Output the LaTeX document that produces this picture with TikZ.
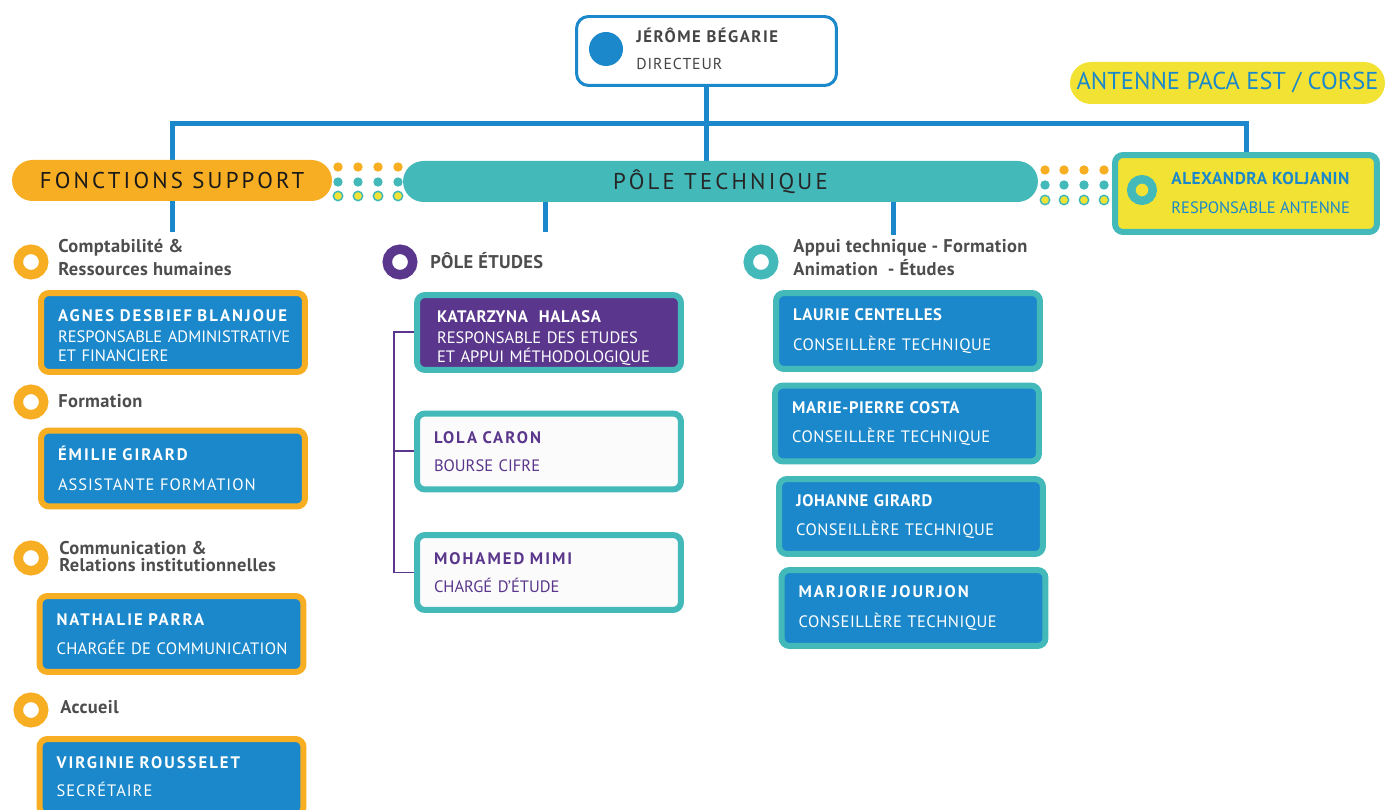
\documentclass[tikz,border=0pt]{standalone}
\usepackage{fontspec}
\setmainfont{PT Sans}
\usetikzlibrary{shapes.misc,backgrounds}

\definecolor{orgblue}{HTML}{1A88CA}
\definecolor{orgorange}{HTML}{F8AE23}
\definecolor{orgteal}{HTML}{44B9BA}
\definecolor{orgpurple}{HTML}{5A378C}
\definecolor{orgyellow}{HTML}{F2E233}
\definecolor{orggray}{HTML}{4D4D4D}
\definecolor{orgwhite}{HTML}{FBFBFB}

\newcommand\wide[2][12]{\mbox{\addfontfeature{LetterSpace=#1}#2}}
\newcommand\staffname[2][4]{\mbox{\fontsize{9.5}{10.5}\selectfont\bfseries\addfontfeature{LetterSpace=#1}#2}}

\tikzset{
  link/.style={draw=orgblue, line width=0.1cm},
  bracket/.style={draw=orgpurple, line width=0.04cm},
  pill/.style={rounded rectangle, fill=#1, minimum height=0.82cm, inner sep=0pt},
  staffbox/.style 2 args={draw=#1, fill=#2, line width=0.12cm, rounded corners=0.16cm,
    minimum width=5.28cm, minimum height=1.52cm, text width=4.6cm, inner xsep=0.34cm,
    inner ysep=0pt, align=left, font=\fontsize{9.4}{10.8}\selectfont},
  supportbox/.style={staffbox={orgorange}{orgblue}, text=white},
  techbox/.style={staffbox={orgteal}{orgblue}, text=white},
  etudesbox/.style={staffbox={orgteal}{orgwhite}, text=orgpurple},
  ring/.style={circle, draw=#1, fill=white, line width=0.19cm, minimum size=0.51cm, inner sep=0pt},
  heading/.style={anchor=west, inner sep=0pt, align=left, text=orggray,
    font=\bfseries\fontsize{10.5}{13}\selectfont\addfontfeature{LetterSpace=2}},
  dot/.style={circle, fill=#1, minimum size=0.188cm, inner sep=0pt},
}

\begin{document}
\begin{tikzpicture}[x=0.02cm, y=-0.02cm]
  \useasboundingbox (0,0) rectangle (1386,810);
  \clip (0,0) rectangle (1386,810);

  % direction
  \node[draw=orgblue, fill=white, line width=0.06cm, rounded corners=0.24cm,
    minimum width=5.2cm, minimum height=1.38cm] (director) at (706.5,51) {};
  \node[circle, fill=orgblue, minimum size=0.68cm, inner sep=0pt] (director dot) at (606,49) {};
  \node[anchor=west, inner sep=0pt, align=left, text=orggray!90!black,
    font=\fontsize{9}{11}\selectfont] (director text) at (636,49)
    {\staffname[9]{JÉRÔME BÉGARIE}\\[4pt]\wide[6]{DIRECTEUR}};

  % antenne
  \node[pill=orgyellow, minimum height=0.84cm, minimum width=6.3cm, text=orgblue,
    font=\fontsize{13.9}{15}\selectfont] (antenne) at (1227.5,83) {ANTENNE PACA EST / CORSE};
  \node[draw=orgteal, fill=orgyellow, line width=0.12cm, rounded corners=0.16cm,
    minimum width=5.24cm, minimum height=1.54cm] (antbox) at (1246,193.5) {};
  \node[circle, draw=orgteal, fill=orgyellow, line width=0.17cm, minimum size=0.43cm,
    inner sep=0pt] (antring) at (1142,190) {};
  \node[anchor=west, inner sep=0pt, align=left, text=orgblue,
    font=\fontsize{9.4}{11}\selectfont] (alexandra) at (1171,193)
    {{\fontsize{9.8}{11}\selectfont\bfseries\addfontfeature{LetterSpace=3}ALEXANDRA KOLJANIN}\\[6pt]RESPONSABLE ANTENNE};

  % dots between the pills
  \foreach \x [count=\i] in {338,358,378,398} {
    \node[dot=orgorange] (dl-\i-a) at (\x,167) {};
    \node[dot=orgteal] (dl-\i-b) at (\x,182) {};
    \node[dot=orgyellow, draw=orgteal, line width=0.03cm] (dl-\i-c) at (\x,196) {};
  }
  \foreach \x [count=\i] in {1045,1064,1084,1104} {
    \node[dot=orgorange] (dr-\i-a) at (\x,170) {};
    \node[dot=orgteal] (dr-\i-b) at (\x,185) {};
    \node[dot=orgyellow, draw=orgteal, line width=0.03cm] (dr-\i-c) at (\x,200) {};
  }

  % pills
  \node[pill=orgorange, minimum width=6.4cm, text=black!90,
    font=\fontsize{13}{15}\selectfont] (support) at (172,180.5) {\wide[14]{FONCTIONS SUPPORT}};
  \node[pill=orgteal, minimum width=12.7cm, text=black!85,
    font=\fontsize{13}{15}\selectfont] (pole) at (720.5,181.5) {\wide[14]{PÔLE TECHNIQUE}};

  % fonctions support
  \node[ring=orgorange] (r-compta) at (31,262) {};
  \node[heading] (compta) at (58,257.5) {Comptabilité \&\\Ressources humaines};
  \node[supportbox, minimum height=1.58cm] (agnes) at (173,332.5)
    {\rule{0pt}{10.5pt}\staffname[12]{AGNES DESBIEF BLANJOUE}\\[1.5pt]\wide[0]{RESPONSABLE ADMINISTRATIVE}\\ET FINANCIERE};

  \node[ring=orgorange] (r-formation) at (31,402) {};
  \node[heading] (formation) at (58,401) {Formation};
  \node[supportbox] (emilie) at (173,468.5)
    {\staffname[12]{ÉMILIE GIRARD}\\[6.5pt]\wide[6]{ASSISTANTE FORMATION}};

  \node[ring=orgorange] (r-com) at (31,558) {};
  \node[heading] (com) at (59,556.5) {Communication \&\\[-3pt]Relations institutionnelles};
  \node[supportbox] (nathalie) at (171.5,634)
    {\staffname[12]{NATHALIE PARRA}\\[5.5pt]\wide[2]{CHARGÉE DE COMMUNICATION}};

  \node[ring=orgorange] (r-accueil) at (31,710) {};
  \node[heading] (accueil) at (60,707) {Accueil};
  \node[supportbox] (virginie) at (171.5,777)
    {\staffname[12]{VIRGINIE ROUSSELET}\\[5pt]\wide[6]{SECRÉTAIRE}};

  % pole etudes
  \node[ring=orgpurple] (r-etudes) at (400,262) {};
  \node[heading] (etudes) at (430,261) {PÔLE ÉTUDES};
  \node[staffbox={orgteal}{orgpurple}, text=white, minimum height=1.5cm, inner xsep=0.4cm,
    text width=4.48cm] (katarzyna) at (549,332.5)
    {\rule{0pt}{13.5pt}\staffname{KATARZYNA\ \ HALASA}\\[1pt]\wide[0]{RESPONSABLE DES ETUDES}\\\wide[0]{ET APPUI MÉTHODOLOGIQUE}};
  \node[etudesbox] (lola) at (549,451.5)
    {\staffname[12]{LOLA CARON}\\[5pt]BOURSE CIFRE};
  \node[etudesbox, minimum height=1.5cm] (mohamed) at (549,572.5)
    {\staffname[12]{MOHAMED MIMI}\\[5pt]CHARGÉ D’ÉTUDE};

  % appui technique
  \node[ring=orgteal] (r-appui) at (761,262) {};
  \node[heading] (appui) at (793,257.5) {Appui technique - Formation\\Animation \ - Études};
  \node[techbox] (laurie) at (908,331)
    {\staffname{LAURIE CENTELLES}\\[6pt]\wide[3]{CONSEILLÈRE TECHNIQUE}};
  \node[techbox] (mariepierre) at (907,423.5)
    {\staffname{MARIE-PIERRE COSTA}\\[6pt]\wide[3]{CONSEILLÈRE TECHNIQUE}};
  \node[techbox, minimum height=1.5cm] (johanne) at (911,516.5)
    {\staffname{JOHANNE GIRARD}\\[6pt]\wide[3]{CONSEILLÈRE TECHNIQUE}};
  \node[techbox] (marjorie) at (913.5,608)
    {\staffname[12]{MARJORIE JOURJON}\\[6pt]\wide[3]{CONSEILLÈRE TECHNIQUE}};

  % links
  \coordinate (bar) at (0,124);
  \coordinate (etudes stub) at (545,232);
  \coordinate (appui stub) at (893,235);
  \begin{scope}[on background layer]
    \draw[link] (director.south) -- (director.south |- pole.north);
    \draw[link] (support.north) -- (support.north |- bar) -| (antbox.north);
    \draw[link] (support.south) -- ++(0,31);
    \draw[link] (etudes stub |- pole.south) -- (etudes stub);
    \draw[link] (appui stub |- pole.south) -- (appui stub);
  \end{scope}
  \draw[bracket] (katarzyna.west) -- ++(-20,0) |- (mohamed.west);
  \draw[bracket] (lola.west) -- ++(-20,0);
\end{tikzpicture}
\end{document}
